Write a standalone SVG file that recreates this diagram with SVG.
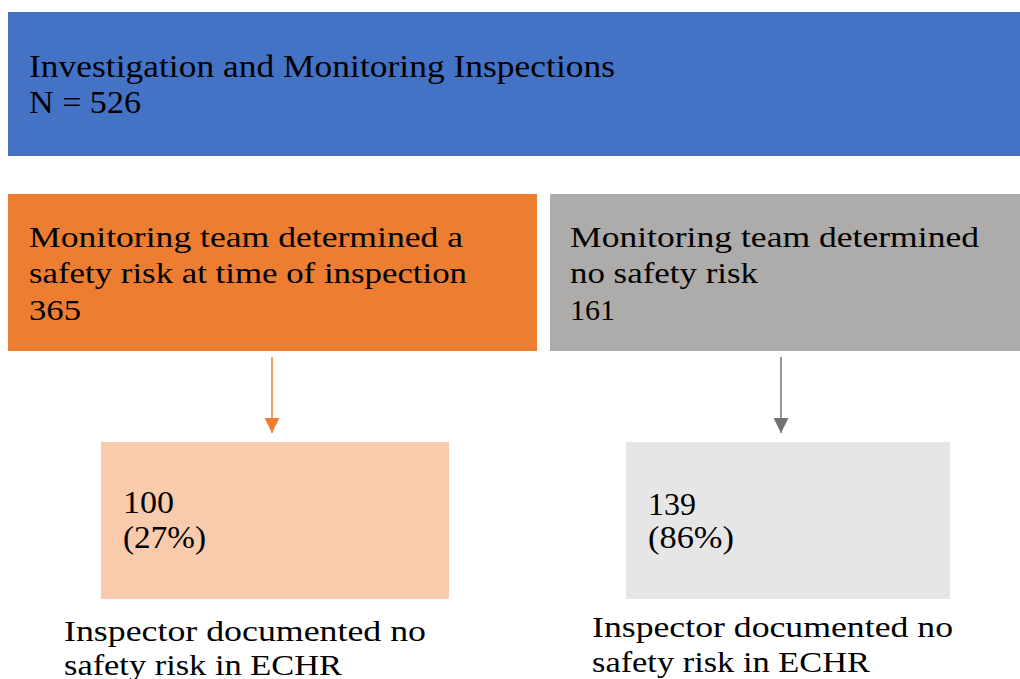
<svg xmlns="http://www.w3.org/2000/svg" width="1020" height="679" viewBox="0 0 1020 679">
<style>
.t{font-family:"Liberation Serif","Times New Roman",serif;fill:#000;}
.h{font-size:31px;}
.m{font-size:30px;}
.s{font-size:32px;}
.l{font-size:30px;}
</style>
<defs>
<marker id="ao" viewBox="0 0 10 10" refX="10" refY="5" markerWidth="15" markerHeight="15" markerUnits="userSpaceOnUse" orient="auto"><path d="M0,0 L10,5 L0,10 Z" fill="#ED7D31"/></marker>
<marker id="ag" viewBox="0 0 10 10" refX="10" refY="5" markerWidth="15" markerHeight="15" markerUnits="userSpaceOnUse" orient="auto"><path d="M0,0 L10,5 L0,10 Z" fill="#767171"/></marker>
</defs>
<rect width="1020" height="679" fill="#fff"/>
<g id="top">
<rect x="8" y="12" width="1012" height="144" fill="#4472C4"/>
<text class="t h" x="29" y="77" textLength="586" lengthAdjust="spacingAndGlyphs">Investigation and Monitoring Inspections</text>
<text class="t h" x="29" y="113" textLength="112" lengthAdjust="spacingAndGlyphs">N = 526</text>
</g>
<g id="risk">
<rect x="8" y="194" width="529" height="157" fill="#ED7D31"/>
<text class="t m" x="29" y="247" textLength="434" lengthAdjust="spacingAndGlyphs">Monitoring team determined a</text>
<text class="t m" x="29" y="283" textLength="438" lengthAdjust="spacingAndGlyphs">safety risk at time of inspection</text>
<text class="t m" x="29" y="320" textLength="52" lengthAdjust="spacingAndGlyphs">365</text>
</g>
<g id="norisk">
<rect x="550" y="194" width="470" height="157" fill="#AEABAB"/>
<text class="t m" x="570" y="247" textLength="409" lengthAdjust="spacingAndGlyphs">Monitoring team determined</text>
<text class="t m" x="570" y="283" textLength="188" lengthAdjust="spacingAndGlyphs">no safety risk</text>
<text class="t m" x="570" y="320" textLength="45" lengthAdjust="spacingAndGlyphs">161</text>
</g>
<g id="connectors">
<line x1="272" y1="357" x2="272" y2="433" stroke="#ED7D31" stroke-width="1.5" marker-end="url(#ao)"/>
<line x1="781" y1="357" x2="781" y2="433" stroke="#767171" stroke-width="1.5" marker-end="url(#ag)"/>
</g>
<g id="risk-result">
<rect x="101" y="442" width="348" height="157" fill="#F8CBAD"/>
<text class="t s" x="123" y="513" textLength="51" lengthAdjust="spacingAndGlyphs">100</text>
<text class="t s" x="123" y="548" textLength="83" lengthAdjust="spacingAndGlyphs">(27%)</text>
<text class="t l" x="64" y="641" textLength="362" lengthAdjust="spacingAndGlyphs">Inspector documented no</text>
<text class="t l" x="64" y="675" textLength="278" lengthAdjust="spacingAndGlyphs">safety risk in ECHR</text>
</g>
<g id="norisk-result">
<rect x="626" y="442" width="324" height="157" fill="#E7E6E6"/>
<text class="t s" x="648" y="515" textLength="48" lengthAdjust="spacingAndGlyphs">139</text>
<text class="t s" x="648" y="548" textLength="86" lengthAdjust="spacingAndGlyphs">(86%)</text>
<text class="t l" x="592" y="637" textLength="361" lengthAdjust="spacingAndGlyphs">Inspector documented no</text>
<text class="t l" x="592" y="672" textLength="278" lengthAdjust="spacingAndGlyphs">safety risk in ECHR</text>
</g>
</svg>
